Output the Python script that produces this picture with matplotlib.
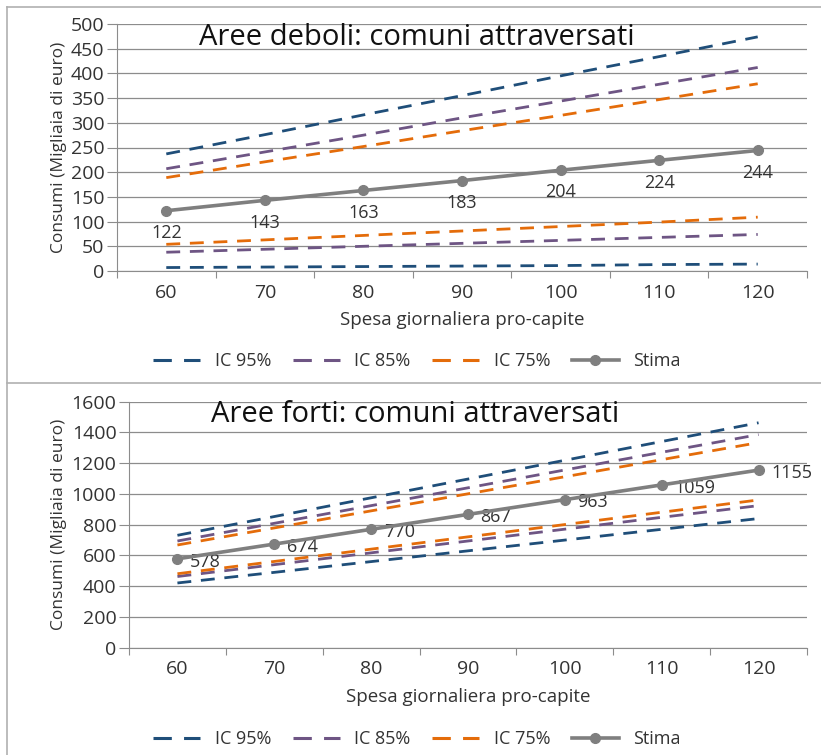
import matplotlib
matplotlib.use("Agg")
import matplotlib.pyplot as plt
from matplotlib.lines import Line2D

# ------------------------------
# Data
# ------------------------------
SPESA = [60, 70, 80, 90, 100, 110, 120]

# Aree deboli
DEB_STIMA = [122, 143, 163, 183, 204, 224, 244]
DEB_95_UP = [237, 276, 316, 355, 395, 434, 474]
DEB_95_LO = [7, 8, 9, 10, 11, 13, 14]
DEB_85_UP = [207, 241, 275, 310, 344, 378, 412]
DEB_85_LO = [38, 44, 50, 56, 62, 68, 74]
DEB_75_UP = [189, 221, 252, 284, 315, 347, 379]
DEB_75_LO = [54, 63, 72, 81, 90, 99, 109]

# Aree forti
FOR_STIMA = [578, 674, 770, 867, 963, 1059, 1155]
FOR_95_UP = [731, 853, 975, 1097, 1219, 1341, 1463]
FOR_95_LO = [421, 490, 560, 630, 700, 770, 840]
FOR_85_UP = [694, 809, 924, 1040, 1156, 1271, 1386]
FOR_85_LO = [463, 540, 617, 694, 771, 848, 924]
FOR_75_UP = [668, 779, 890, 1001, 1112, 1223, 1334]
FOR_75_LO = [481, 561, 641, 721, 801, 881, 961]

C95 = "#1f4e79"
C85 = "#6e5584"
C75 = "#e46c0a"
CST = "#7f7f7f"
GRID = "#8c8c8c"
TXT = "#333333"

plt.rcParams['font.family'] = ['Open Sans', 'DejaVu Sans']

fig = plt.figure(figsize=(8.21, 7.55), dpi=100)

# panel borders
for y in (1 - 7/755, 1 - 383/755):
    fig.add_artist(Line2D([7/821, 1], [y, y], color="#b0b0b0", lw=1.2))
fig.add_artist(Line2D([7/821, 7/821], [0, 1 - 7/755], color="#b0b0b0", lw=1.2))


def draw_panel(ax, title, tpos, stima, bands, ymax, ystep, label_mode):
    xs = list(range(len(SPESA)))
    dash = (5, 3.5)
    for up, lo, col in bands:
        ax.plot(xs, up, color=col, lw=2.0, dashes=dash)
        ax.plot(xs, lo, color=col, lw=2.0, dashes=dash)
    ax.plot(xs, stima, color=CST, lw=2.6, marker="o", ms=7, zorder=5)

    for x, v in zip(xs, stima):
        if label_mode == "below":
            ax.annotate(str(v), (x, v), xytext=(0, -16), textcoords="offset points",
                        ha="center", va="center", fontsize=13, color=TXT)
        else:
            ax.annotate(str(v), (x, v), xytext=(9, -2), textcoords="offset points",
                        ha="left", va="center", fontsize=13, color=TXT)

    ax.set_xlim(-0.5, len(SPESA) - 0.5)
    ax.set_ylim(0, ymax)
    ax.set_yticks(range(0, ymax + 1, ystep))
    ax.set_xticks([i - 0.5 for i in range(len(SPESA) + 1)])
    ax.set_xticklabels([])
    ax.set_xticks(xs, minor=True)
    ax.set_xticklabels([str(s) for s in SPESA], minor=True)
    ax.tick_params(axis="x", which="major", length=5, color=GRID, direction="out")
    ax.tick_params(axis="x", which="minor", length=0, pad=9, labelsize=14,
                   labelcolor=TXT)
    ax.tick_params(axis="y", length=7, color=GRID, labelsize=14, labelcolor=TXT, pad=2)
    ax.grid(axis="y", color=GRID, lw=0.9)
    ax.set_axisbelow(True)
    for s in ("top", "right"):
        ax.spines[s].set_visible(False)
    for s in ("left", "bottom"):
        ax.spines[s].set_color(GRID)
    ax.set_ylabel("Consumi (Migliaia di euro)", fontsize=12.5, color=TXT, labelpad=3)
    ax.set_xlabel("Spesa giornaliera pro-capite", fontsize=13.5, color=TXT, labelpad=7)
    ax.text(tpos[0], tpos[1], title, transform=ax.transAxes, ha="center", va="center",
            fontsize=21, color="#111111")


ax1 = fig.add_axes([117/821, 1 - 271/755, 690/821, 247/755])
draw_panel(ax1, "Aree deboli: comuni attraversati", (0.435, 0.945), DEB_STIMA,
           [(DEB_95_UP, DEB_95_LO, C95), (DEB_85_UP, DEB_85_LO, C85),
            (DEB_75_UP, DEB_75_LO, C75)], 500, 50, "below")

ax2 = fig.add_axes([129/821, 1 - 647.7/755, 678/821, 246/755])
draw_panel(ax2, "Aree forti: comuni attraversati", (0.422, 0.95), FOR_STIMA,
           [(FOR_95_UP, FOR_95_LO, C95), (FOR_85_UP, FOR_85_LO, C85),
            (FOR_75_UP, FOR_75_LO, C75)], 1600, 200, "right")

handles = [
    Line2D([], [], color=C95, lw=2.2, dashes=(6, 4)),
    Line2D([], [], color=C85, lw=2.2, dashes=(6, 4)),
    Line2D([], [], color=C75, lw=2.2, dashes=(6, 4)),
    Line2D([], [], color=CST, lw=2.6, marker="o", ms=7),
]
labels = ["IC 95%", "IC 85%", "IC 75%", "Stima"]
for yc in (361, 739):
    fig.legend(handles, labels, loc="center", bbox_to_anchor=(417/821, 1 - yc/755),
               ncol=4, frameon=False, fontsize=13, handlelength=2.6, handletextpad=0.8,
               columnspacing=1.2, labelcolor=TXT)

fig.savefig("out.png", dpi=100)
